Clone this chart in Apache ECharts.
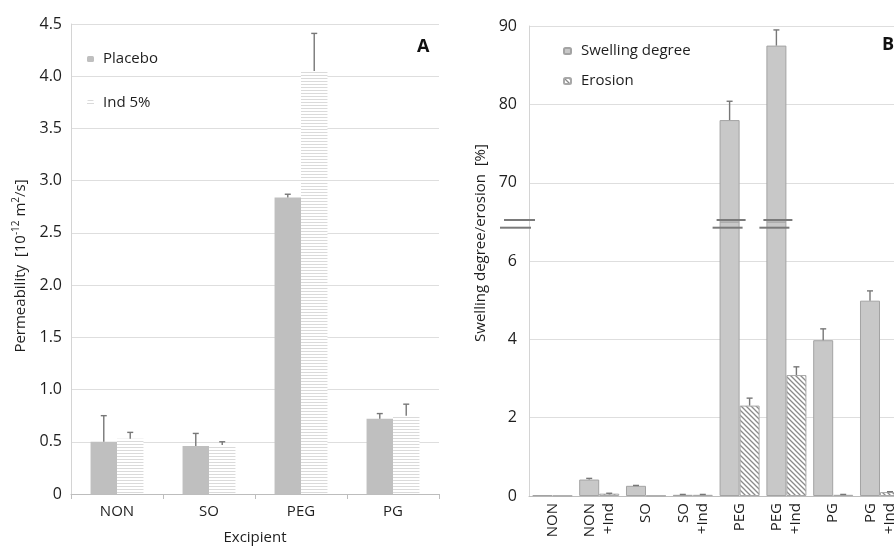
<!DOCTYPE html>
<html><head><meta charset="utf-8">
<script src="https://cdn.jsdelivr.net/npm/echarts@6/dist/echarts.min.js"></script>
<style>html,body{margin:0;padding:0;background:#fff}#c{width:894px;height:547px}</style>
</head><body><div id="c"></div>
<script>
// ---------- Panel A data ----------
const excipients = ['NON', 'SO', 'PEG', 'PG'];
const placebo    = [0.50, 0.46, 2.84, 0.72];
const placeboErr = [0.25, 0.12, 0.03, 0.05];
const ind5       = [0.53, 0.47, 4.05, 0.75];
const ind5Err    = [0.06, 0.03, 0.36, 0.11];
const permTicks  = [0, 0.5, 1.0, 1.5, 2.0, 2.5, 3.0, 3.5, 4.0, 4.5];

// ---------- Panel B data ----------
const formulations = ['NON', 'NON\n+Ind', 'SO', 'SO\n+Ind', 'PEG', 'PEG\n+Ind', 'PG', 'PG\n+Ind'];
const swelling     = [0.02, 0.42, 0.26, 0.03, 78.0, 87.5, 3.98, 4.99];
const swellingErr  = [0.00, 0.03, 0.01, 0.01, 2.4, 2.0, 0.29, 0.25];
const erosion      = [0.01, 0.06, 0.01, 0.03, 2.31, 3.09, 0.03, 0.10];
const erosionErr   = [0.00, 0.01, 0.00, 0.01, 0.19, 0.21, 0.01, 0.01];
const lowTicks  = [0, 2, 4, 6];
const highTicks = [70, 80, 90];

// ---------- layout / style ----------
const FONT = 'Open Sans';
const TXT = '#1e1e1e';
const GRIDC = '#dedede';
const A = {left: 71, top: 24, width: 368, height: 470};
const B = {left: 529, width: 374.4, top: 26, seam: 222, bottom: 496};
const gapA = 0.425, gapB = 0.145;

function stripePattern() {
  const c = document.createElement('canvas'); c.width = 4; c.height = 3;
  const g = c.getContext('2d');
  g.fillStyle = '#ffffff'; g.fillRect(0, 0, 4, 3);
  g.fillStyle = '#dadada'; g.fillRect(0, 0, 4, 1);
  return {image: c, repeat: 'repeat'};
}
function hatchPattern() {
  const s = 5; const c = document.createElement('canvas'); c.width = s; c.height = s;
  const g = c.getContext('2d');
  g.fillStyle = '#ffffff'; g.fillRect(0, 0, s, s);
  g.strokeStyle = '#8a8a8a'; g.lineWidth = 1.3;
  g.beginPath();
  g.moveTo(0, 0); g.lineTo(s, s);
  g.moveTo(-1, s - 1); g.lineTo(1, s + 1);
  g.moveTo(s - 1, -1); g.lineTo(s + 1, 1);
  g.stroke();
  return {image: c, repeat: 'repeat'};
}

function errRender(side, gap) {
  return function (params, api) {
    const e = api.value(2);
    if (!(e > 0)) return null;
    const cat = api.value(0), v = api.value(1);
    const band = api.size([1, 0])[0];
    const p0 = api.coord([cat, v]);
    const p1 = api.coord([cat, v + e]);
    const x = p0[0] + side * band * (1 - gap) / 4;
    const st = {stroke: '#777777', lineWidth: 1.4};
    return {type: 'group', children: [
      {type: 'line', shape: {x1: x, y1: p0[1], x2: x, y2: p1[1]}, style: st},
      {type: 'line', shape: {x1: x - 3, y1: p1[1], x2: x + 3, y2: p1[1]}, style: st}
    ]};
  };
}
function breakRender(params, api) {
  const cat = api.value(0), v = api.value(1);
  const top = params.coordSys.y;
  const p = api.coord([cat, v]);
  if (p[1] >= top) return null;
  const band = api.size([1, 0])[0];
  const pw = band * (1 - gapB);
  const xc = p[0] - pw / 4;
  const x0 = xc - pw / 4, x1 = xc + pw / 4;
  const st = {stroke: '#7a7a7a', lineWidth: 2};
  return {type: 'group', children: [
    {type: 'line', shape: {x1: x0 - 3, y1: top - 2, x2: x1 + 6, y2: top - 2}, style: st},
    {type: 'line', shape: {x1: x0 - 7, y1: top + 5.7, x2: x1 + 3, y2: top + 5.7}, style: st}
  ]};
}

const errData = (vals, errs) => vals.map((v, i) => [i, v, errs[i]]);

const chart = echarts.init(document.getElementById('c'), null, {renderer: 'canvas'});
const stripes = stripePattern();
const hatch = hatchPattern();

const swellStyle = {color: '#c8c8c8', borderColor: '#a3a3a3', borderWidth: 1};
const erosionStyle = {color: hatch, borderColor: '#a8a8a8', borderWidth: 1};

const option = {
  backgroundColor: '#ffffff',
  animation: false,
  textStyle: {fontFamily: FONT, color: TXT},
  grid: [
    {left: A.left, top: A.top, width: A.width, height: A.height, outerBoundsMode: 'none', containLabel: false},
    {left: B.left, top: B.top, width: B.width, height: B.seam - B.top, outerBoundsMode: 'none', containLabel: false},
    {left: B.left, top: B.seam, width: B.width, height: B.bottom - B.seam, outerBoundsMode: 'none', containLabel: false}
  ],
  legend: [
    {data: ['Placebo', 'Ind 5%'], orient: 'vertical', left: 87, top: 51, padding: 0, itemWidth: 7, itemHeight: 6,
     itemGap: 28, selectedMode: false,
     textStyle: {fontFamily: FONT, fontSize: 15, color: TXT, lineHeight: 16, padding: [0, 0, 0, 4]}},
    {data: ['Swelling degree', 'Erosion'], orient: 'vertical', left: 563, top: 43, padding: 0, itemWidth: 7, itemHeight: 6,
     itemGap: 14, selectedMode: false,
     textStyle: {fontFamily: FONT, fontSize: 15, color: TXT, lineHeight: 16, padding: [0, 0, 0, 5]}}
  ],
  xAxis: [
    {type: 'category', gridIndex: 0, data: excipients,
     axisLine: {lineStyle: {color: '#bdbdbd', width: 1}},
     axisTick: {show: true, length: 5, lineStyle: {color: '#bdbdbd'}},
     axisLabel: {fontFamily: FONT, fontSize: 15, color: TXT, margin: 10},
     name: 'Excipient', nameLocation: 'middle', nameGap: 36,
     nameTextStyle: {fontFamily: FONT, fontSize: 15, color: TXT}},
    {type: 'category', gridIndex: 1, data: formulations,
     axisLine: {show: false}, axisTick: {show: false}, axisLabel: {show: false}},
    {type: 'category', gridIndex: 2, data: formulations,
     axisLine: {lineStyle: {color: '#bdbdbd', width: 1}},
     axisTick: {show: false},
     axisLabel: {interval: 0, rotate: 90, fontFamily: FONT, fontSize: 15, color: TXT, margin: 7, lineHeight: 19}}
  ],
  yAxis: [
    {type: 'value', gridIndex: 0, min: permTicks[0], max: permTicks[permTicks.length - 1], interval: 0.5,
     axisLine: {show: true, lineStyle: {color: '#d4d4d4'}}, axisTick: {show: false},
     axisLabel: {fontFamily: FONT, fontSize: 16, color: TXT, margin: 9,
       formatter: v => (v === 0 ? '0' : v.toFixed(1))},
     splitLine: {lineStyle: {color: GRIDC}}},
    {type: 'value', gridIndex: 1, min: 65, max: highTicks[highTicks.length - 1], splitNumber: 2,
     axisLine: {show: true, lineStyle: {color: '#d4d4d4'}}, axisTick: {show: false},
     axisLabel: {fontFamily: FONT, fontSize: 16, color: TXT, margin: 12, showMinLabel: false,
       formatter: v => (highTicks.indexOf(v) >= 0 ? String(v) : '')},
     splitLine: {showMinLine: false, lineStyle: {color: GRIDC}}},
    {type: 'value', gridIndex: 2, min: lowTicks[0], max: 7, interval: 2,
     axisLine: {show: true, lineStyle: {color: '#d4d4d4'}}, axisTick: {show: false},
     axisLabel: {fontFamily: FONT, fontSize: 16, color: TXT, margin: 12, showMaxLabel: false,
       formatter: v => (lowTicks.indexOf(v) >= 0 ? String(v) : '')},
     splitLine: {showMaxLine: false, lineStyle: {color: GRIDC}}}
  ],
  series: [
    // Panel A
    {name: 'Placebo', type: 'bar', xAxisIndex: 0, yAxisIndex: 0, data: placebo,
     barGap: '0%', barCategoryGap: (gapA * 100) + '%', itemStyle: {color: '#bfbfbf'}},
    {name: 'Ind 5%', type: 'bar', xAxisIndex: 0, yAxisIndex: 0, data: ind5,
     barGap: '0%', barCategoryGap: (gapA * 100) + '%', itemStyle: {color: stripes}},
    {type: 'custom', xAxisIndex: 0, yAxisIndex: 0, data: errData(placebo, placeboErr),
     renderItem: errRender(-1, gapA), z: 5, silent: true},
    {type: 'custom', xAxisIndex: 0, yAxisIndex: 0, data: errData(ind5, ind5Err),
     renderItem: errRender(1, gapA), z: 5, silent: true},
    // Panel B lower
    {name: 'Swelling degree', type: 'bar', xAxisIndex: 2, yAxisIndex: 2, data: swelling, clip: true,
     barGap: '0%', barCategoryGap: (gapB * 100) + '%', itemStyle: swellStyle},
    {name: 'Erosion', type: 'bar', xAxisIndex: 2, yAxisIndex: 2, data: erosion, clip: true,
     barGap: '0%', barCategoryGap: (gapB * 100) + '%', itemStyle: erosionStyle},
    // Panel B upper
    {name: 'Swelling degree', type: 'bar', xAxisIndex: 1, yAxisIndex: 1, data: swelling, clip: true,
     barGap: '0%', barCategoryGap: (gapB * 100) + '%', itemStyle: swellStyle},
    {name: 'Erosion', type: 'bar', xAxisIndex: 1, yAxisIndex: 1, data: erosion, clip: true,
     barGap: '0%', barCategoryGap: (gapB * 100) + '%', itemStyle: erosionStyle},
    // error bars B
    {type: 'custom', xAxisIndex: 2, yAxisIndex: 2, data: errData(swelling, swellingErr), clip: true,
     renderItem: errRender(-1, gapB), z: 5, silent: true},
    {type: 'custom', xAxisIndex: 2, yAxisIndex: 2, data: errData(erosion, erosionErr), clip: true,
     renderItem: errRender(1, gapB), z: 5, silent: true},
    {type: 'custom', xAxisIndex: 1, yAxisIndex: 1, data: errData(swelling, swellingErr), clip: true,
     renderItem: errRender(-1, gapB), z: 5, silent: true},
    {type: 'custom', xAxisIndex: 1, yAxisIndex: 1, data: errData(erosion, erosionErr), clip: true,
     renderItem: errRender(1, gapB), z: 5, silent: true},
    // axis-break marks over tall bars
    {type: 'custom', xAxisIndex: 2, yAxisIndex: 2, data: swelling.map((v, i) => [i, v]), clip: false,
     renderItem: breakRender, z: 6, silent: true}
  ],
  graphic: [
    {type: 'text', left: 417, top: 38, style: {text: 'A', font: 'bold 18px "' + FONT + '"', fill: '#111'}},
    {type: 'text', left: 882, top: 36, style: {text: 'B', font: 'bold 18px "' + FONT + '"', fill: '#111'}},
    {type: 'text', x: 21, y: 266, rotation: Math.PI / 2,
     style: {text: '{a|Permeability  [10}{s|-12}{a| m}{s|2}{a|/s]}', align: 'center', verticalAlign: 'middle',
       rich: {a: {fontFamily: FONT, fontSize: 15, fill: TXT, lineHeight: 20},
              s: {fontFamily: FONT, fontSize: 10, fill: TXT, lineHeight: 10, verticalAlign: 'top'}}}},
    {type: 'text', x: 481, y: 243, rotation: Math.PI / 2,
     style: {text: 'Swelling degree/erosion  [%]', align: 'center', verticalAlign: 'middle',
       font: '15px "' + FONT + '"', fill: TXT}},
    {type: 'line', shape: {x1: B.left - 25, y1: B.seam - 2, x2: B.left + 6, y2: B.seam - 2},
     style: {stroke: '#7a7a7a', lineWidth: 2}, z: 10},
    {type: 'line', shape: {x1: B.left - 29, y1: B.seam + 5.7, x2: B.left + 2, y2: B.seam + 5.7},
     style: {stroke: '#7a7a7a', lineWidth: 2}, z: 10}
  ]
};
chart.setOption(option);
</script>
</body></html>
